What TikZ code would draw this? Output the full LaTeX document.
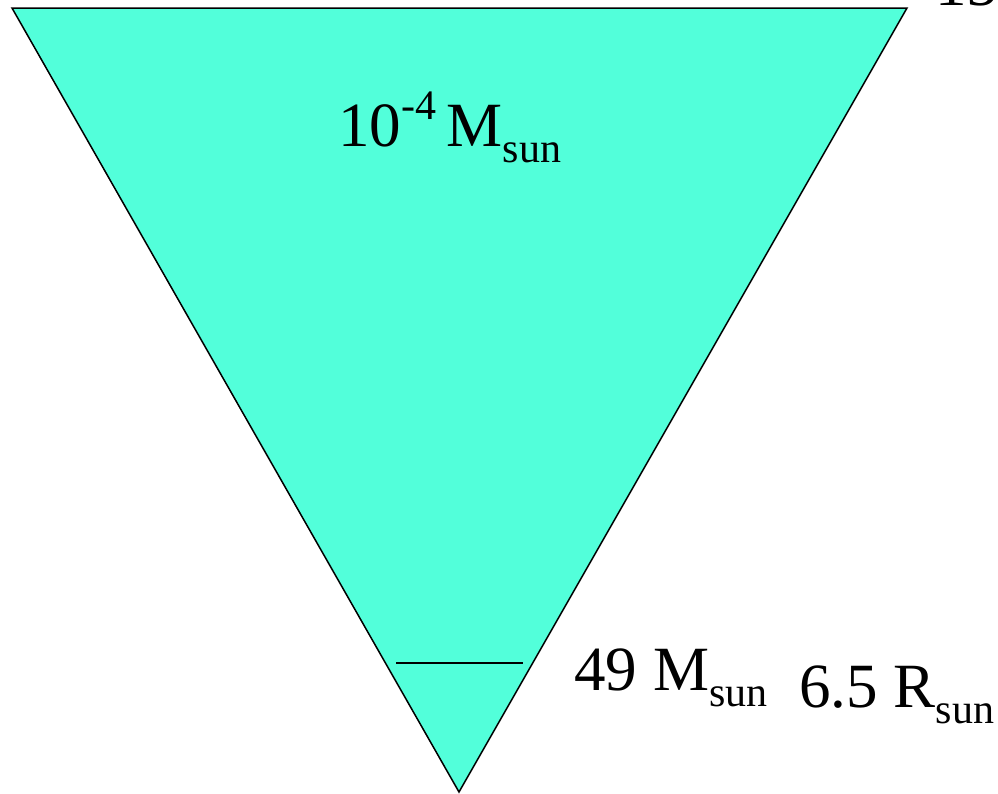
\documentclass[tikz,border=0pt]{standalone}
\usepackage{fontspec}
\setmainfont{Liberation Serif}
\usetikzlibrary{positioning}
\definecolor{kegel}{HTML}{52FFDA}
\newcommand{\sunsub}[1]{#1\raisebox{-0.26em}{\fontsize{21}{25}\selectfont sun}}

\begin{document}
\begin{tikzpicture}[x=0.5pt, y=-0.5pt,
        lbl/.style={anchor=base west, inner sep=0pt, font=\fontsize{31.5}{38}\selectfont}
      ]
      \clip (0,0) rectangle (998,794);
      \useasboundingbox (0,0) rectangle (998,794);
      % cone
      \coordinate (tl) at (12,8);
      \coordinate (tr) at (907,8);
      \coordinate (tip) at (459,792);
      \draw[fill=kegel, line width=0.75pt, line join=miter] (tl) -- (tr) -- (tip) -- cycle;
      % shell boundary
      \coordinate (cl) at (396,663);
      \coordinate (cr) at (523,663);
      \draw[line width=0.75pt] (cl) -- (cr);
      % labels
      \node[lbl] (top) at (338,146) {10\raisebox{0.42em}{\fontsize{21}{25}\selectfont -4}\,\sunsub{M}};
      \node[lbl] (mass) at (574,690) {49 \sunsub{M}};
      \node[lbl] (rad) at (799,707) {6.5 \sunsub{R}};
      \node[lbl] (cut) at (935,5) {15};
    \end{tikzpicture}
\end{document}
